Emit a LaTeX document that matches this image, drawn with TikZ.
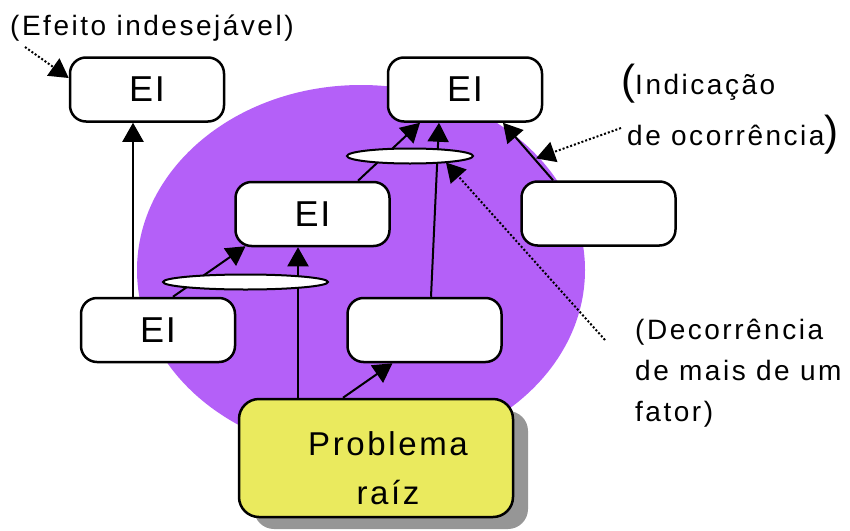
\documentclass[tikz,border=0pt]{standalone}
\usepackage{fontspec}
\setmainfont{Liberation Sans}
\newfontfamily\annfont[LetterSpace=9]{Liberation Sans}
\newfontfamily\boxfont[LetterSpace=5]{Liberation Sans}
\newfontfamily\rootfont[LetterSpace=8]{Liberation Sans}
\usetikzlibrary{arrows.meta,calc,shapes.geometric,shadows}
\pgfdeclarelayer{blobl}
\pgfdeclarelayer{linkl}
\pgfsetlayers{blobl,linkl,main}
\definecolor{blobpurple}{RGB}{180,96,248}
\definecolor{rootyellow}{RGB}{234,234,94}
\definecolor{shadowgray}{RGB}{150,150,150}
\newcommand\bigpar[1]{{\fontsize{42}{44}\selectfont #1}}
\begin{document}
\begin{tikzpicture}[x=1pt,y=-1pt,
  box/.style={draw, line width=2.5pt, rounded corners=16pt, fill=white,
    minimum width=154pt, minimum height=64pt, inner sep=0pt,
    font=\boxfont\fontsize{36}{40}\selectfont},
  junction/.style={ellipse, draw, line width=2pt, fill=white,
    minimum height=15pt, inner sep=0pt},
  link/.style={line width=2pt, -{Triangle[length=19pt,width=21pt]}},
  note/.style={line width=2pt, dash pattern=on 2pt off 2pt,
    -{Triangle[length=19pt,width=21pt]}},
  ann/.style={inner sep=0pt, font=\annfont\fontsize{28}{41}\selectfont}
]
\useasboundingbox (0,0) rectangle (850,530);

\begin{pgfonlayer}{blobl}
  \fill[blobpurple] (361,270) ellipse [x radius=224, y radius=185];
\end{pgfonlayer}

% boxes
\node[box] (tl) at (147,89.5) {EI};
\node[box] (tc) at (465,89.5) {EI};
\node[box] (r)  at (598.5,213.5) {};
\node[box] (m)  at (312.5,214) {EI};
\node[box] (bl) at (158,330) {EI};
\node[box] (bm) at (424.5,330) {};
\node[draw, line width=2.5pt, rounded corners=20pt, fill=rootyellow,
  minimum width=274pt, minimum height=118pt, inner sep=0pt, align=center,
  font=\rootfont\fontsize{33}{49}\selectfont,
  drop shadow={shadow xshift=15pt, shadow yshift=-12pt, fill=shadowgray, opacity=1}]
  (pr) at (376,458) {\hspace*{24pt}\rule{0pt}{44pt}Problema\\\hspace*{24pt}raíz};

% junctions
\node[junction, minimum width=126pt] (e1) at (410,156) {};
\node[junction, minimum width=165pt] (e2) at (245.5,282) {};

% connectors
\coordinate (r7) at ($(r.north)+(-45.5,0)$);
\coordinate (t7) at ($(tc.south)+(38,0)$);
\begin{pgfonlayer}{linkl}
  \draw[link] ($(bl.north)+(-25,0)$) -- ($(tl.south)+(-14,0)$);
  \draw[link] ($(bl.north)+(15,0)$) -- ($(m.south)+(-67,-1)$);
  \draw[link] ($(pr.north)+(-78,0)$) -- ($(m.south)+(-14.5,0)$);
  \draw[link] ($(pr.north)+(-33,0)$) -- ($(bm.south)+(-32,0)$);
  \draw[link] ($(bm.north)+(6.5,0)$) -- ($(tc.south)+(-26,0)$);
  \draw[link] ($(m.north)+(45.5,0)$) -- ($(tc.south)+(-45,0)$);
  \draw[link] (r7) -- (t7);
  % annotation pointers
  \coordinate (efx) at (25,47);
  \coordinate (occx) at (621,128);
  \coordinate (decx) at (605,340);
  \coordinate (occt) at ($(r7)!0.38!(t7)$);
  \draw[note] (efx) -- ($(tl.west)+(0,-11.5)$);
  \draw[note] (occx) -- ([xshift=2pt]occt);
  \draw[note] (decx) -- ($(e1.center)+(36,6.5)$);
\end{pgfonlayer}

% annotations
\node[ann, anchor=base west] (efeito) at (10,35) {(Efeito indesejável)};
\node[ann, anchor=base west] (indic) at (621,94) {\bigpar{(}Indicação};
\node[ann, anchor=base west] (ocorr) at (627,145) {de ocorrência\bigpar{)}};
\node[ann, anchor=north west, align=left] (decor) at (635,319)
  {(Decorrência\\de mais de um\\fator)};
\end{tikzpicture}
\end{document}
